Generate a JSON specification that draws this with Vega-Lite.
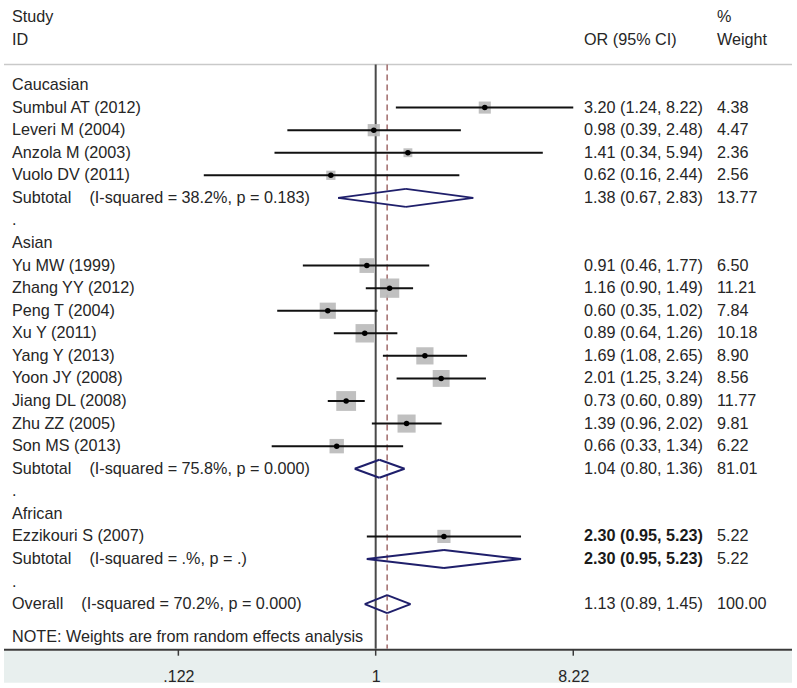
{
  "$schema": "https://vega.github.io/schema/vega-lite/v6.json",
  "background": "white",
  "padding": {"left": 3, "top": 0, "right": 4, "bottom": 4},
  "config": {"view": {"stroke": null}, "font": "Liberation Sans"},
  "datasets": {
    "rows": [
      {"key": "h1", "label": "Study", "ci": null, "wt": "%", "kind": "head"},
      {"key": "h2", "label": "ID", "ci": "OR (95% CI)", "wt": "Weight", "kind": "head"},
      {"key": "g0", "label": "", "kind": "gap"},
      {"key": "cau", "label": "Caucasian", "group": "Caucasian", "kind": "group"},
      {"key": "s1", "label": "Sumbul AT (2012)", "group": "Caucasian", "kind": "study", "or": 3.20, "lo": 1.24, "hi": 8.22, "w": 4.38, "ci": "3.20 (1.24, 8.22)", "wt": "4.38"},
      {"key": "s2", "label": "Leveri M (2004)", "group": "Caucasian", "kind": "study", "or": 0.98, "lo": 0.39, "hi": 2.48, "w": 4.47, "ci": "0.98 (0.39, 2.48)", "wt": "4.47"},
      {"key": "s3", "label": "Anzola M (2003)", "group": "Caucasian", "kind": "study", "or": 1.41, "lo": 0.34, "hi": 5.94, "w": 2.36, "ci": "1.41 (0.34, 5.94)", "wt": "2.36"},
      {"key": "s4", "label": "Vuolo DV (2011)", "group": "Caucasian", "kind": "study", "or": 0.62, "lo": 0.16, "hi": 2.44, "w": 2.56, "ci": "0.62 (0.16, 2.44)", "wt": "2.56"},
      {"key": "sub1", "label": "Subtotal\u00a0\u00a0\u00a0\u00a0(I-squared = 38.2%, p = 0.183)", "group": "Caucasian", "kind": "sub", "or": 1.38, "lo": 0.67, "hi": 2.83, "w": 13.77, "ci": "1.38 (0.67, 2.83)", "wt": "13.77"},
      {"key": "g1", "label": ".", "kind": "gap"},
      {"key": "asi", "label": "Asian", "group": "Asian", "kind": "group"},
      {"key": "s5", "label": "Yu MW (1999)", "group": "Asian", "kind": "study", "or": 0.91, "lo": 0.46, "hi": 1.77, "w": 6.50, "ci": "0.91 (0.46, 1.77)", "wt": "6.50"},
      {"key": "s6", "label": "Zhang YY (2012)", "group": "Asian", "kind": "study", "or": 1.16, "lo": 0.90, "hi": 1.49, "w": 11.21, "ci": "1.16 (0.90, 1.49)", "wt": "11.21"},
      {"key": "s7", "label": "Peng T (2004)", "group": "Asian", "kind": "study", "or": 0.60, "lo": 0.35, "hi": 1.02, "w": 7.84, "ci": "0.60 (0.35, 1.02)", "wt": "7.84"},
      {"key": "s8", "label": "Xu Y (2011)", "group": "Asian", "kind": "study", "or": 0.89, "lo": 0.64, "hi": 1.26, "w": 10.18, "ci": "0.89 (0.64, 1.26)", "wt": "10.18"},
      {"key": "s9", "label": "Yang Y (2013)", "group": "Asian", "kind": "study", "or": 1.69, "lo": 1.08, "hi": 2.65, "w": 8.90, "ci": "1.69 (1.08, 2.65)", "wt": "8.90"},
      {"key": "s10", "label": "Yoon JY (2008)", "group": "Asian", "kind": "study", "or": 2.01, "lo": 1.25, "hi": 3.24, "w": 8.56, "ci": "2.01 (1.25, 3.24)", "wt": "8.56"},
      {"key": "s11", "label": "Jiang DL (2008)", "group": "Asian", "kind": "study", "or": 0.73, "lo": 0.60, "hi": 0.89, "w": 11.77, "ci": "0.73 (0.60, 0.89)", "wt": "11.77"},
      {"key": "s12", "label": "Zhu ZZ (2005)", "group": "Asian", "kind": "study", "or": 1.39, "lo": 0.96, "hi": 2.02, "w": 9.81, "ci": "1.39 (0.96, 2.02)", "wt": "9.81"},
      {"key": "s13", "label": "Son MS (2013)", "group": "Asian", "kind": "study", "or": 0.66, "lo": 0.33, "hi": 1.34, "w": 6.22, "ci": "0.66 (0.33, 1.34)", "wt": "6.22"},
      {"key": "sub2", "label": "Subtotal\u00a0\u00a0\u00a0\u00a0(I-squared = 75.8%, p = 0.000)", "group": "Asian", "kind": "sub", "or": 1.04, "lo": 0.80, "hi": 1.36, "w": 81.01, "ci": "1.04 (0.80, 1.36)", "wt": "81.01"},
      {"key": "g2", "label": ".", "kind": "gap"},
      {"key": "afr", "label": "African", "group": "African", "kind": "group"},
      {"key": "s14", "label": "Ezzikouri S (2007)", "group": "African", "kind": "study", "or": 2.07, "lo": 0.91, "hi": 4.71, "w": 5.22, "ci": "2.30 (0.95, 5.23)", "wt": "5.22"},
      {"key": "sub3", "label": "Subtotal\u00a0\u00a0\u00a0\u00a0(I-squared = .%, p = .)", "group": "African", "kind": "sub", "or": 2.07, "lo": 0.91, "hi": 4.71, "w": 5.22, "ci": "2.30 (0.95, 5.23)", "wt": "5.22"},
      {"key": "g3", "label": ".", "kind": "gap"},
      {"key": "all", "label": "Overall\u00a0\u00a0\u00a0\u00a0(I-squared = 70.2%, p = 0.000)", "kind": "overall", "or": 1.13, "lo": 0.89, "hi": 1.45, "w": 100.00, "ci": "1.13 (0.89, 1.45)", "wt": "100.00"},
      {"key": "note", "label": "NOTE: Weights are from random effects analysis", "kind": "note"}
    ],
    "ticks": [{"t": 0.122}, {"t": 1}, {"t": 8.22}]
  },
  "data": {"name": "rows"},
  "bounds": "flush",
  "spacing": 0,
  "resolve": {"scale": {"y": "shared"}},
  "hconcat": [
    {
      "width": 166,
      "height": 649,
      "layer": [
        {
          "data": {"values": [{}]},
          "mark": {"type": "tick", "orient": "horizontal", "color": "#e8efee", "opacity": 1, "thickness": 32, "size": 166, "yOffset": 40},
          "encoding": {"y": {"datum": "note", "type": "nominal", "scale": {"type": "point", "domain": ["h1","h2","g0","cau","s1","s2","s3","s4","sub1","g1","asi","s5","s6","s7","s8","s9","s10","s11","s12","s13","sub2","g2","afr","s14","sub3","g3","all","note"], "padding": 0.8775, "align": 0.437}, "axis": null}}
        },
        {
          "data": {"values": [{}]},
          "mark": {"type": "rule", "color": "#c9c9c9", "strokeWidth": 1.5, "yOffset": 2},
          "encoding": {"y": {"datum": "g0", "type": "nominal", "axis": null}}
        },
        {
          "data": {"values": [{}]},
          "mark": {"type": "rule", "color": "#3a3a3a", "strokeWidth": 2, "yOffset": 23},
          "encoding": {"y": {"datum": "note", "type": "nominal", "axis": null}}
        },
        {
          "transform": [{"filter": "datum.kind != 'note' && datum.label != ''"}],
          "mark": {"type": "text", "align": "left", "baseline": "middle", "fontSize": 16.2, "color": "#262626"},
          "encoding": {
            "x": {"value": 8},
            "y": {"field": "key", "type": "nominal", "axis": null},
            "text": {"field": "label"}
          }
        },
        {
          "transform": [{"filter": "datum.kind == 'note'"}],
          "mark": {"type": "text", "align": "left", "baseline": "middle", "fontSize": 16.2, "color": "#262626", "dy": 10},
          "encoding": {
            "x": {"value": 8},
            "y": {"field": "key", "type": "nominal", "axis": null},
            "text": {"field": "label"}
          }
        }
      ]
    },
    {
      "width": 430,
      "height": 649,
      "layer": [
        {
          "data": {"values": [{}]},
          "mark": {"type": "tick", "orient": "horizontal", "color": "#e8efee", "opacity": 1, "thickness": 32, "size": 430, "yOffset": 40},
          "encoding": {"y": {"datum": "note", "type": "nominal", "scale": {"type": "point", "domain": ["h1","h2","g0","cau","s1","s2","s3","s4","sub1","g1","asi","s5","s6","s7","s8","s9","s10","s11","s12","s13","sub2","g2","afr","s14","sub3","g3","all","note"], "padding": 0.8775, "align": 0.437}, "axis": null}}
        },
        {
          "data": {"values": [{}]},
          "mark": {"type": "rule", "color": "#c9c9c9", "strokeWidth": 1.5, "yOffset": 2},
          "encoding": {"y": {"datum": "g0", "type": "nominal", "axis": null}}
        },
        {
          "data": {"values": [{}]},
          "mark": {"type": "rule", "color": "#3a3a3a", "strokeWidth": 2, "yOffset": 23},
          "encoding": {"y": {"datum": "note", "type": "nominal", "axis": null}}
        },
        {
          "data": {"name": "ticks"},
          "mark": {"type": "rule", "color": "#3a3a3a", "strokeWidth": 1.5, "yOffset": 23, "y2Offset": 29},
          "encoding": {
            "x": {
              "field": "t",
              "type": "quantitative",
              "scale": {"type": "log", "domain": [0.1116, 10.93], "nice": false},
              "axis": {
                "orient": "bottom",
                "zindex": 2,
                "values": [0.122, 1, 8.22],
                "format": "~g",
                "labelExpr": "replace(datum.label, '0.', '.')",
                "title": null,
                "grid": false,
                "domain": false,
                "ticks": false,
                "labelFont": "Liberation Sans",
                "labelFontSize": 16,
                "labelColor": "#262626",
                "labelPadding": 19,
                "labelFlush": false,
                "labelOverlap": false
              }
            },
            "y": {"datum": "note", "type": "nominal", "axis": null},
            "y2": {"datum": "note"}
          }
        },
        {
          "data": {"values": [{}]},
          "mark": {"type": "rule", "color": "#4a4a4a", "strokeWidth": 2, "yOffset": 2, "y2Offset": 22},
          "encoding": {
            "x": {"datum": 1, "type": "quantitative"},
            "y": {"datum": "g0", "type": "nominal", "axis": null},
            "y2": {"datum": "note"}
          }
        },
        {
          "transform": [{"filter": "datum.kind == 'overall'"}],
          "mark": {"type": "rule", "color": "#a06a6a", "strokeWidth": 1.5, "strokeDash": [6, 4], "yOffset": 2, "y2Offset": 22},
          "encoding": {
            "x": {"field": "or", "type": "quantitative"},
            "y": {"datum": "g0", "type": "nominal", "axis": null},
            "y2": {"datum": "note"}
          }
        },
        {
          "transform": [{"filter": "datum.kind == 'study'"}],
          "mark": {"type": "square", "filled": true, "color": "#b9b9b9", "opacity": 0.9},
          "encoding": {
            "x": {"field": "or", "type": "quantitative"},
            "y": {"field": "key", "type": "nominal", "axis": null},
            "size": {"field": "w", "type": "quantitative", "scale": {"domain": [0, 12], "range": [0, 400]}, "legend": null}
          }
        },
        {
          "transform": [{"filter": "datum.kind == 'study'"}],
          "mark": {"type": "rule", "color": "#111111", "strokeWidth": 2},
          "encoding": {
            "x": {"field": "lo", "type": "quantitative"},
            "x2": {"field": "hi"},
            "y": {"field": "key", "type": "nominal", "axis": null}
          }
        },
        {
          "transform": [{"filter": "datum.kind == 'study'"}],
          "mark": {"type": "point", "filled": true, "color": "#000000", "size": 30, "opacity": 1},
          "encoding": {
            "x": {"field": "or", "type": "quantitative"},
            "y": {"field": "key", "type": "nominal", "axis": null}
          }
        },
        {
          "transform": [{"filter": "datum.kind == 'sub' || datum.kind == 'overall'"}],
          "mark": {"type": "rule", "color": "#1f1f6b", "strokeWidth": 2, "y2Offset": -9},
          "encoding": {
            "x": {"field": "lo", "type": "quantitative"},
            "x2": {"field": "or"},
            "y": {"field": "key", "type": "nominal", "axis": null},
            "y2": {"field": "key"}
          }
        },
        {
          "transform": [{"filter": "datum.kind == 'sub' || datum.kind == 'overall'"}],
          "mark": {"type": "rule", "color": "#1f1f6b", "strokeWidth": 2, "yOffset": -9},
          "encoding": {
            "x": {"field": "or", "type": "quantitative"},
            "x2": {"field": "hi"},
            "y": {"field": "key", "type": "nominal", "axis": null},
            "y2": {"field": "key"}
          }
        },
        {
          "transform": [{"filter": "datum.kind == 'sub' || datum.kind == 'overall'"}],
          "mark": {"type": "rule", "color": "#1f1f6b", "strokeWidth": 2, "y2Offset": 9},
          "encoding": {
            "x": {"field": "lo", "type": "quantitative"},
            "x2": {"field": "or"},
            "y": {"field": "key", "type": "nominal", "axis": null},
            "y2": {"field": "key"}
          }
        },
        {
          "transform": [{"filter": "datum.kind == 'sub' || datum.kind == 'overall'"}],
          "mark": {"type": "rule", "color": "#1f1f6b", "strokeWidth": 2, "yOffset": 9},
          "encoding": {
            "x": {"field": "or", "type": "quantitative"},
            "x2": {"field": "hi"},
            "y": {"field": "key", "type": "nominal", "axis": null},
            "y2": {"field": "key"}
          }
        }
      ]
    },
    {
      "width": 192,
      "height": 649,
      "layer": [
        {
          "data": {"values": [{}]},
          "mark": {"type": "tick", "orient": "horizontal", "color": "#e8efee", "opacity": 1, "thickness": 32, "size": 192, "yOffset": 40},
          "encoding": {"y": {"datum": "note", "type": "nominal", "scale": {"type": "point", "domain": ["h1","h2","g0","cau","s1","s2","s3","s4","sub1","g1","asi","s5","s6","s7","s8","s9","s10","s11","s12","s13","sub2","g2","afr","s14","sub3","g3","all","note"], "padding": 0.8775, "align": 0.437}, "axis": null}}
        },
        {
          "data": {"values": [{}]},
          "mark": {"type": "rule", "color": "#c9c9c9", "strokeWidth": 1.5, "yOffset": 2},
          "encoding": {"y": {"datum": "g0", "type": "nominal", "axis": null}}
        },
        {
          "data": {"values": [{}]},
          "mark": {"type": "rule", "color": "#3a3a3a", "strokeWidth": 2, "yOffset": 23},
          "encoding": {"y": {"datum": "note", "type": "nominal", "axis": null}}
        },
        {
          "transform": [{"filter": "datum.ci != null && datum.group != 'African'"}],
          "mark": {"type": "text", "align": "left", "baseline": "middle", "fontSize": 16.2, "color": "#262626", "dx": -16},
          "encoding": {
            "x": {"value": 0},
            "y": {"field": "key", "type": "nominal", "axis": null},
            "text": {"field": "ci"}
          }
        },
        {
          "transform": [{"filter": "datum.ci != null && datum.group == 'African'"}],
          "mark": {"type": "text", "align": "left", "baseline": "middle", "fontSize": 16.2, "color": "#1a1a1a", "fontWeight": "bold", "dx": -16},
          "encoding": {
            "x": {"value": 0},
            "y": {"field": "key", "type": "nominal", "axis": null},
            "text": {"field": "ci"}
          }
        },
        {
          "transform": [{"filter": "datum.wt != null"}],
          "mark": {"type": "text", "align": "left", "baseline": "middle", "fontSize": 16.2, "color": "#262626"},
          "encoding": {
            "x": {"value": 117},
            "y": {"field": "key", "type": "nominal", "axis": null},
            "text": {"field": "wt"}
          }
        }
      ]
    }
  ]
}
